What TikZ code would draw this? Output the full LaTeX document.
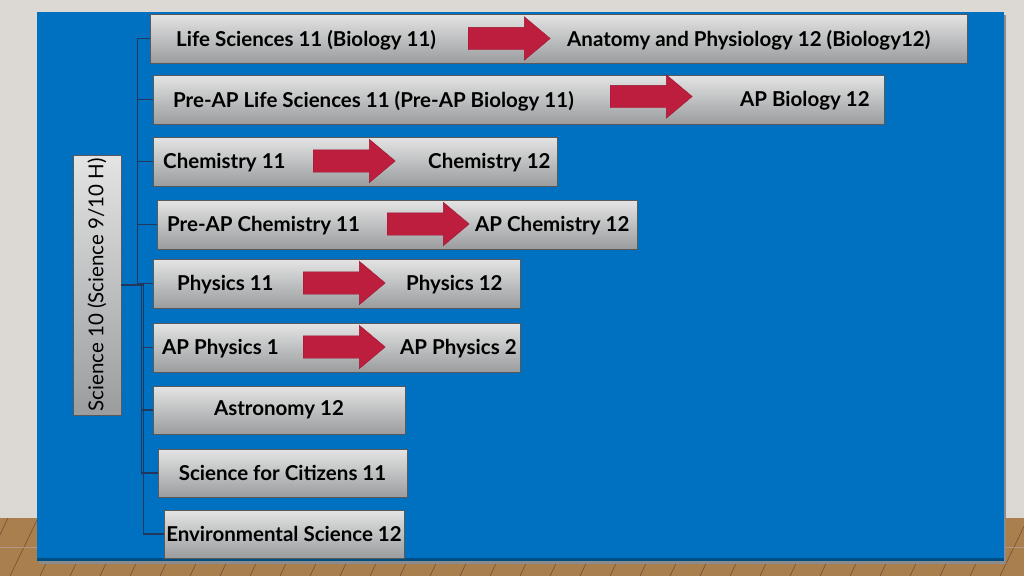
\documentclass[tikz,border=0pt]{standalone}
\usepackage{fontspec}
\setmainfont{Lato}
\usepackage{tikz}
\usetikzlibrary{shapes,shapes.arrows,calc,positioning}

\definecolor{slide}{HTML}{0070C0}
\definecolor{wall}{HTML}{DCD9D4}
\definecolor{wood}{HTML}{A97F4E}
\definecolor{woodline}{HTML}{7A5533}
\definecolor{crimson}{HTML}{BE1E3E}
\definecolor{boxtop}{HTML}{E4E4E4}
\definecolor{boxbot}{HTML}{9A9C9E}
\definecolor{trunk}{HTML}{22375C}

\begin{document}
\begin{tikzpicture}
    [x=1pt, y=-1pt,
    course/.style={rectangle, draw=gray!70!black, line width=0.6pt,
    top color=boxtop, bottom color=boxbot, minimum height=49pt, inner sep=0pt,
    font=\bfseries\fontsize{20.5}{22}\selectfont},
    label/.style={anchor=west, inner sep=0pt, yshift=-1.5pt,
    font=\bfseries\fontsize{20.5}{22}\selectfont},
    flow/.style={single arrow, anchor=tail, fill=crimson, draw=crimson!80!black, line width=0.4pt,
    minimum height=82pt, single arrow head extend=10.5pt, single arrow tip angle=80,
    inner sep=11pt},
    branch/.style={draw=trunk, line width=1.4pt}]

  \useasboundingbox (0,0) rectangle (1024,576);
  \fill[wall] (0,0) rectangle (1024,576);
  \fill[wood] (0,518) rectangle (1024,576);
  \foreach \x in {-20,10,...,1040}
    \draw[woodline, line width=0.7pt] (\x,576) -- ++(28,-58);
  \draw[woodline!60, line width=0.5pt] (0,547) -- (1024,547);
  \fill[black!45] (39,15) rectangle (1006,564);
  \fill[slide] (37,12) rectangle (1004,561);
  \fill[slide!70!black] (37,558) rectangle (1004,561);

  \node[course, minimum width=48pt, minimum height=260pt,
    font=\fontsize{20.5}{22}\selectfont] (root) at (97,285)
    {\rotatebox{90}{Science 10 (Science 9/10 H)}};

  \node[course, minimum width=817pt] (bio) at (558.5,38.5) {};
  \node[course, minimum width=731pt] (apbio) at (518.5,99.5) {};
  \node[course, minimum width=404pt] (chem) at (355,161.5) {};
  \node[course, minimum width=480pt] (apchem) at (397,224.5) {};
  \node[course, minimum width=367pt] (phys) at (336.5,283.5) {};
  \node[course, minimum width=367pt] (apphys) at (336.5,347.5) {};
  \node[course, minimum width=252pt, minimum height=48pt] (astro) at (279,410) {Astronomy 12};
  \node[course, minimum width=249pt, minimum height=48pt] (citizen) at (282.5,473) {Science for Citizens 11};
  \node[course, minimum width=240pt, minimum height=48pt] (enviro) at (284,534) {Environmental Science 12};

  \node[label] (bio11) at (176,39) {Life Sciences 11 (Biology 11)};
  \node[flow] (bioarrow) at (468,38.5) {};
  \node[label] (bio12) at (567,39) {Anatomy and Physiology 12 (Biology12)};

  \node[label] (apbio11) at (173,99.5) {Pre-AP Life Sciences 11 (Pre-AP Biology 11)};
  \node[flow] (apbioarrow) at (610,96.5) {};
  \node[label] (apbio12) at (740,99.5) {AP Biology 12};

  \node[label] (chem11) at (163,161.5) {Chemistry 11};
  \node[flow] (chemarrow) at (313,161) {};
  \node[label] (chem12) at (428,161.5) {Chemistry 12};

  \node[label] (apchem11) at (167,224.5) {Pre-AP Chemistry 11};
  \node[flow] (apchemarrow) at (387,224) {};
  \node[label] (apchem12) at (475,224.5) {AP Chemistry 12};

  \node[label] (phys11) at (177,283.5) {Physics 11};
  \node[flow] (physarrow) at (303,283) {};
  \node[label] (phys12) at (406,283.5) {Physics 12};

  \node[label] (apphys1) at (162,347.5) {AP Physics 1};
  \node[flow] (apphysarrow) at (303,347) {};
  \node[label] (apphys2) at (400,347.5) {AP Physics 2};

  \draw[branch] (root.east) -- ++(16,0) |- (bio.west);
  \draw[branch] (root.east) -- ++(16,0) |- (apbio.west);
  \draw[branch] (root.east) -- ++(16,0) |- (chem.west);
  \draw[branch] (root.east) -- ++(16,0) |- (apchem.west);
  \draw[branch] (root.east) -- ++(16,0) |- (phys.west);
  \draw[branch] (root.east) -- ++(20,0) |- (apphys.west);
  \draw[branch] (root.east) -- ++(20,0) |- (astro.west);
  \draw[branch] (root.east) -- ++(20,0) |- (citizen.west);
  \draw[branch] (root.east) -- ++(22,0) |- (enviro.west);

\end{tikzpicture}
\end{document}
